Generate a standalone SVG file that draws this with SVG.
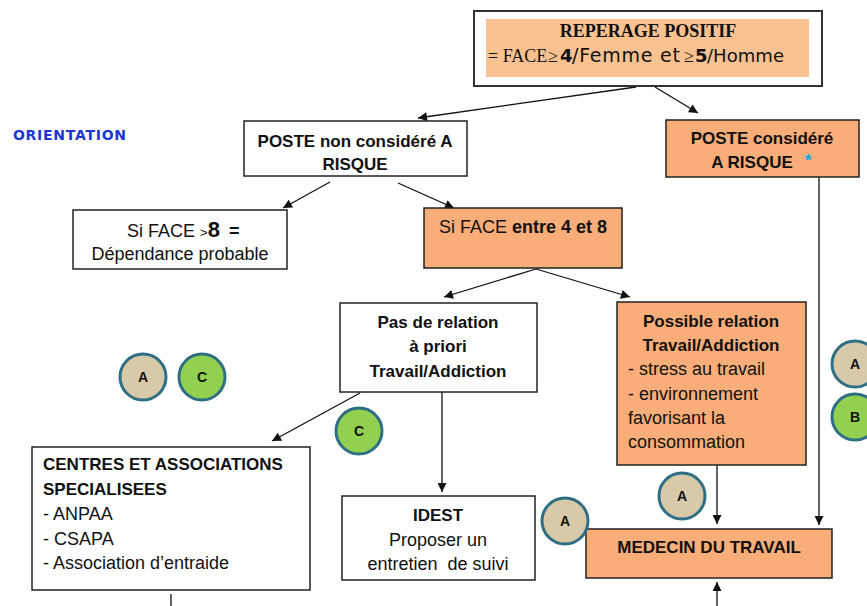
<svg xmlns="http://www.w3.org/2000/svg" width="867" height="606" viewBox="0 0 867 606">
<style>
.box{stroke:#222;stroke-width:1.5}
.w{fill:#fff}
.o{fill:#F9AD78}
.t{font-family:"Liberation Sans",Arial,sans-serif;font-size:18px;fill:#111}
.b{font-weight:bold;font-size:17px}
.c{text-anchor:middle}
.ln{stroke:#111;stroke-width:1.3;fill:none}
.circ{stroke:#2F6F85;stroke-width:3}
.tan{fill:#D8CAA8}
.grn{fill:#92D050}
.cl{font-family:"Liberation Sans",Arial,sans-serif;font-size:14px;font-weight:bold;fill:#111;text-anchor:middle}
.sf{font-family:"Liberation Serif","Times New Roman",serif;font-size:18px;fill:#111}
.cs{font-family:"DejaVu Sans",sans-serif;fill:#111}
</style>
<defs>
<marker id="ar" viewBox="0 0 10 10" refX="10" refY="5" markerWidth="10" markerHeight="9" markerUnits="userSpaceOnUse" orient="auto">
<path d="M0,0 L10,5 L0,10 z" fill="#111"/>
</marker>
</defs>
<rect width="867" height="606" fill="#fff"/>

<text x="13" y="140" font-family="'Comic Sans MS','DejaVu Sans',sans-serif" font-size="14" font-weight="bold" fill="#1C35D4" textLength="113" lengthAdjust="spacing">ORIENTATION</text>

<g id="connectors">
<line class="ln" x1="636" y1="87" x2="418" y2="118" marker-end="url(#ar)"/>
<line class="ln" x1="655" y1="87" x2="698" y2="113" marker-end="url(#ar)"/>
<line class="ln" x1="330" y1="182" x2="283" y2="208" marker-end="url(#ar)"/>
<line class="ln" x1="398" y1="183" x2="454" y2="208" marker-end="url(#ar)"/>
<line class="ln" x1="536" y1="269" x2="444" y2="297" marker-end="url(#ar)"/>
<line class="ln" x1="536" y1="269" x2="630" y2="297" marker-end="url(#ar)"/>
<line class="ln" x1="360" y1="393" x2="272" y2="441" marker-end="url(#ar)"/>
<line class="ln" x1="442" y1="392" x2="442" y2="492" marker-end="url(#ar)"/>
<line class="ln" x1="717" y1="465" x2="717" y2="524" marker-end="url(#ar)"/>
<line class="ln" x1="819" y1="177" x2="819" y2="525" marker-end="url(#ar)"/>
<line class="ln" x1="717" y1="606" x2="717" y2="582" marker-end="url(#ar)"/>
<line class="ln" x1="171" y1="594" x2="171" y2="606"/>
</g>

<g id="reperage">
<rect x="474" y="11" width="348" height="75" fill="#fff" stroke="#333" stroke-width="2"/>
<rect x="486" y="19" width="323" height="58" fill="#FAC191"/>
<text class="sf" x="648" y="37" font-weight="bold" text-anchor="middle">REPERAGE POSITIF</text>
<text class="sf" x="488" y="62">= FACE</text>
<text class="sf" x="548" y="62">≥</text>
<text class="cs" x="560" y="62" font-size="18" font-weight="bold">4</text>
<text class="cs" x="572" y="62" font-size="19" textLength="108" lengthAdjust="spacing">/Femme et</text>
<text class="sf" x="684" y="62">≥</text>
<text class="cs" x="695" y="62" font-size="18" font-weight="bold">5</text>
<text class="cs" x="707" y="62" font-size="18" textLength="77" lengthAdjust="spacingAndGlyphs">/Homme</text>
</g>

<g id="poste-non">
<rect class="box w" x="244" y="121" width="223" height="55"/>
<text class="t b c" x="355" y="147">POSTE non considéré A</text>
<text class="t b c" x="355" y="170">RISQUE</text>
</g>

<g id="poste-risque">
<rect class="box o" x="666" y="120" width="193" height="57"/>
<text class="t b c" x="762" y="144">POSTE considéré</text>
<text class="t b c" x="752" y="168">A RISQUE</text>
<text x="808" y="166" font-family="'Liberation Sans',Arial,sans-serif" font-size="17" font-weight="bold" fill="#00B0F0" text-anchor="middle">*</text>
</g>

<g id="face-sup8">
<rect class="box w" x="73" y="210" width="214" height="59"/>
<text class="t" x="127" y="237">Si FACE <tspan font-size="13">&gt;</tspan><tspan font-weight="bold" font-size="22">8</tspan><tspan font-weight="bold" dx="9">=</tspan></text>
<text class="t c" x="180" y="260">Dépendance probable</text>
</g>

<g id="face-4-8">
<rect class="box o" x="424" y="208" width="198" height="60"/>
<text class="t c" x="523" y="233">Si FACE <tspan font-weight="bold">entre 4 et 8</tspan></text>
</g>

<g id="pas-relation">
<rect class="box w" x="340" y="303" width="197" height="89"/>
<text class="t b c" x="438" y="328">Pas de relation</text>
<text class="t b c" x="438" y="352">à priori</text>
<text class="t b c" x="438" y="377">Travail/Addiction</text>
</g>

<g id="possible-relation">
<rect class="box o" x="617" y="302" width="189" height="163"/>
<text class="t b c" x="711" y="327">Possible relation</text>
<text class="t b c" x="711" y="351">Travail/Addiction</text>
<text class="t" x="628" y="375">- stress au travail</text>
<text class="t" x="628" y="400">- environnement</text>
<text class="t" x="628" y="424">favorisant la</text>
<text class="t" x="628" y="448">consommation</text>
</g>

<g id="centres">
<rect class="box w" x="32" y="447" width="278" height="143"/>
<text class="t b" x="43" y="470">CENTRES ET ASSOCIATIONS</text>
<text class="t b" x="43" y="495">SPECIALISEES</text>
<text class="t" x="43" y="520">- ANPAA</text>
<text class="t" x="43" y="545">- CSAPA</text>
<text class="t" x="43" y="569">- Association d’entraide</text>
</g>

<g id="idest">
<rect class="box w" x="342" y="496" width="193" height="84"/>
<text class="t b c" x="438" y="521">IDEST</text>
<text class="t c" x="438" y="546">Proposer un</text>
<text class="t c" x="438" y="570" xml:space="preserve">entretien  de suivi</text>
</g>

<g id="medecin">
<rect class="box o" x="586" y="529" width="246" height="49"/>
<text class="t b c" x="709" y="553">MEDECIN DU TRAVAIL</text>
</g>

<g id="badges">
<g id="badge-a1"><circle class="circ tan" cx="143" cy="377" r="23"/><text class="cl" x="143" y="382">A</text></g>
<g id="badge-c1"><circle class="circ grn" cx="202" cy="377" r="23"/><text class="cl" x="202" y="382">C</text></g>
<g id="badge-c2"><circle class="circ grn" cx="359" cy="431" r="23"/><text class="cl" x="359" y="436">C</text></g>
<g id="badge-a2"><circle class="circ tan" cx="855" cy="364" r="23"/><text class="cl" x="855" y="369">A</text></g>
<g id="badge-b"><circle class="circ grn" cx="855" cy="417" r="23"/><text class="cl" x="855" y="422">B</text></g>
<g id="badge-a3"><circle class="circ tan" cx="682" cy="496" r="23"/><text class="cl" x="682" y="501">A</text></g>
<g id="badge-a4"><circle class="circ tan" cx="565" cy="521" r="23"/><text class="cl" x="565" y="526">A</text></g>
</g>
</svg>
